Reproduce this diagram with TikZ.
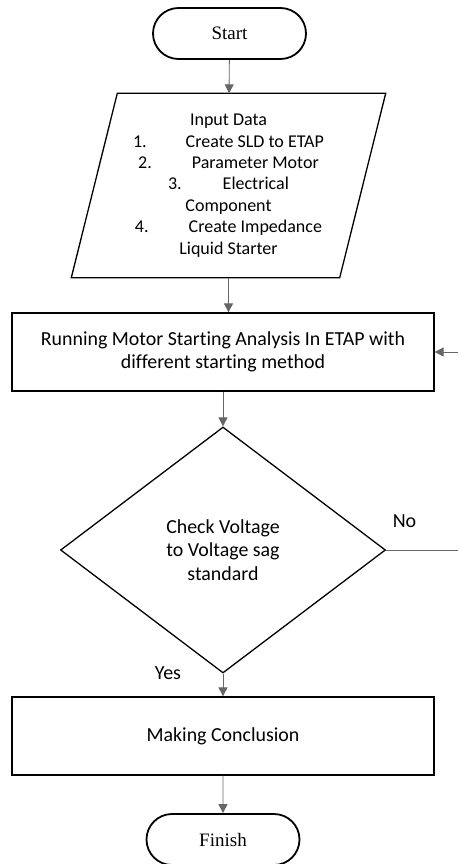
\documentclass[tikz,border=0pt]{standalone}
\usepackage{fontspec}
\setmainfont{Liberation Serif}
\newfontfamily\calibri[Ligatures=NoCommon]{Carlito}
\usetikzlibrary{shapes.geometric, shapes.misc, arrows.meta}

\begin{document}
\begin{tikzpicture}[x=1pt, y=-1pt, >={Triangle[length=9pt, width=9pt]},
    terminal/.style={rounded rectangle, draw, line width=1.8pt, minimum width=153pt, minimum height=51pt, inner sep=0pt, font=\fontsize{19}{22}\selectfont},
    process/.style={rectangle, draw, line width=1.3pt, minimum width=422pt, minimum height=78pt, inner sep=0pt, align=center, font=\calibri\fontsize{19.9}{23}\selectfont},
    io/.style={rectangle, minimum width=268pt, minimum height=184pt, inner sep=0pt, align=center, font=\calibri\fontsize{18}{21.4}\selectfont},
    decision/.style={diamond, draw, line width=1.3pt, minimum width=325pt, minimum height=246pt, inner sep=0pt, align=center, font=\calibri\fontsize{19.9}{23.5}\selectfont},
    flow/.style={->, line width=0.9pt, gray!80!black},
    tag/.style={font=\calibri\fontsize{20}{22}\selectfont}]
    \useasboundingbox (0,0) rectangle (458,864);

    % Draw blocks
    \node[terminal] (start) at (229.5,33.5) {Start};
    \node[io] (input) at (228.5,185.5) {Input Data\\
        1.\hspace{39pt}Create SLD to ETAP\\
        2.\hspace{40pt}Parameter Motor\\
        3.\hspace{41pt}Electrical\\
        Component\\
        4.\hspace{40pt}Create Impedance\\
        Liquid Starter};
    % slanted sides of the input box
    \draw[line width=1.3pt] ([xshift=23pt]input.north west) -- ([xshift=23pt]input.north east)
        -- ([xshift=-23pt]input.south east) -- ([xshift=-23pt]input.south west) -- cycle;
    \node[process] (run) at (223,352) {Running Motor Starting Analysis In ETAP with\\ different starting method};
    \node[decision] (check) at (223,550) {Check Voltage\\ to Voltage sag\\ standard};
    \node[process] (concl) at (223,736) {Making Conclusion};
    \node[terminal] (finish) at (223,839.5) {Finish};

    % Draw labels
    \node[tag] (no) at (404.5,521) {No};
    \node[tag] (yes) at (168,673) {Yes};

    % Draw connectors
    \coordinate (back) at (458,352);
    \coordinate (noend) at (458,550);
    \draw[flow] (start) -- (input);
    \draw[flow] (input) -- (input |- run.north);
    \draw[flow] (run) -- (check);
    \draw[flow] (check) -- (concl);
    \draw[flow] (concl) -- (finish);
    \draw[flow] (back) -- (run);
    \draw[flow, -] (check.east) -- (noend);
\end{tikzpicture}
\end{document}
